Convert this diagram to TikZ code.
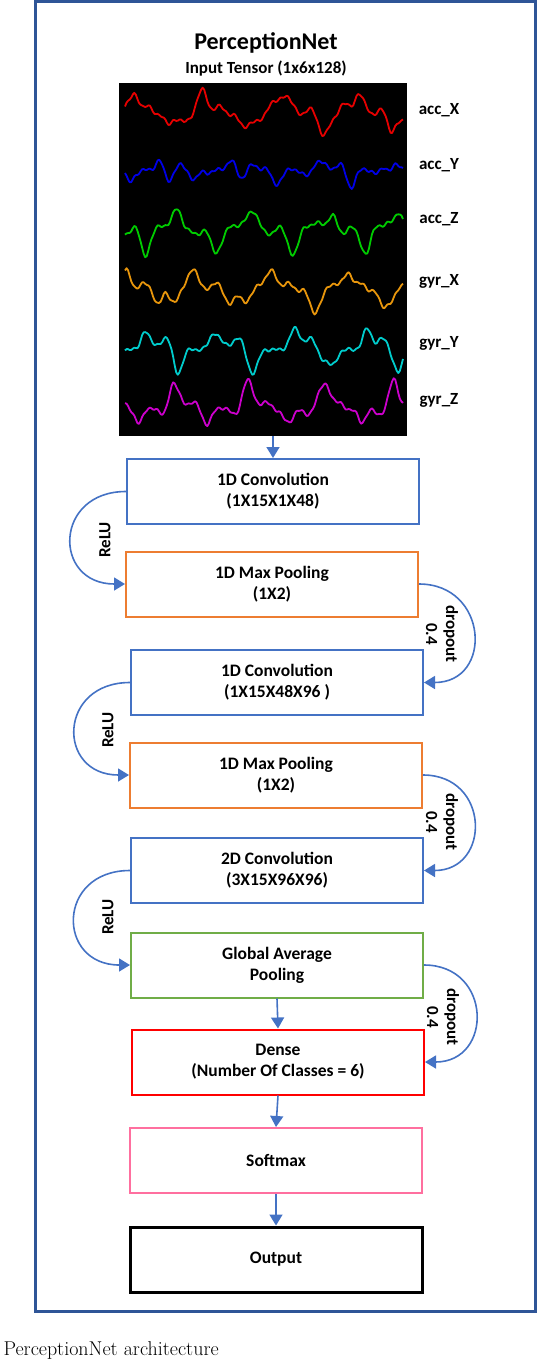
\documentclass[tikz,border=0pt]{standalone}
\usepackage{fontspec}
\newfontfamily\carlito{Carlito}
\usetikzlibrary{positioning}
\usetikzlibrary{arrows.meta}

\definecolor{frameblue}{HTML}{2F5597}
\definecolor{convblue}{HTML}{4472C4}
\definecolor{poolorange}{HTML}{ED7D31}
\definecolor{gapgreen}{HTML}{70AD47}
\definecolor{densered}{HTML}{FF0000}
\definecolor{softpink}{HTML}{FF6F9F}
\definecolor{sigred}{HTML}{E60000}
\definecolor{sigblue}{HTML}{0000E6}
\definecolor{siggreen}{HTML}{00CC00}
\definecolor{sigorange}{HTML}{E8960C}
\definecolor{sigcyan}{HTML}{00CCCC}
\definecolor{sigmagenta}{HTML}{CC00CC}

\tikzset{
  blk/.style={draw, line width=2pt, minimum width=292pt, minimum height=65pt, inner sep=0pt, align=center, font=\carlito\bfseries\fontsize{17.5}{21}\selectfont},
  flow/.style={draw=convblue, line width=1.6pt, -{Triangle[length=11pt,width=13pt]}},
  lbl/.style={font=\carlito\bfseries\fontsize{17}{20}\selectfont, align=center},
  declare function={spk(\t)=sin(\t)*abs(sin(\t))^6;
    wave(\t,\pa,\pb,\pc,\pd)=0.3*sin(5*\t+\pa)+0.22*sin(10*\t+\pb)+0.18*sin(15*\t+\pc)+0.15*sin(20*\t+\pa)+0.9*spk(5*\t+\pd+30*sin(1.3*\t))+0.07*sin(47*\t);}
}

\begin{document}
\begin{tikzpicture}[x=1pt, y=1pt]
\useasboundingbox (0,0) rectangle (538,-1360);

% outer frame
\draw[frameblue, line width=3pt] (35,-1.5) rectangle (535.5,-1311);

\node[font=\carlito\bfseries\fontsize{24}{28}\selectfont] (title) at (266,-43) {PerceptionNet};
\node[font=\carlito\bfseries\fontsize{17}{20}\selectfont] (intitle) at (266,-69) {Input Tensor (1x6x128)};

% input signals
\node[fill=black, minimum width=288pt, minimum height=353pt, inner sep=0pt] (sig) at (263,-259.5) {};
\foreach \col/\yc/\pa/\pb/\pc/\pd in {sigred/112/0/40/100/30, sigblue/171/90/200/30/250, siggreen/230/200/10/300/160, sigorange/289/40/150/220/80, sigcyan/348/300/80/170/340, sigmagenta/406/150/260/60/190}
  \draw[\col, line width=1.8pt, line join=round] plot[domain=0:278, samples=180] ({125+\x}, {-\yc+17*wave(\x,\pa,\pb,\pc,\pd)});

\foreach \nm/\yy [count=\i] in {acc\_X/110, acc\_Y/165, acc\_Z/219, gyr\_X/281, gyr\_Y/343, gyr\_Z/400}
  \node[lbl] (chan\i) at (439,-\yy) {\nm};

% layers
\node[blk, draw=convblue] (conva) at (273,-491.5) {1D Convolution\\(1X15X1X48)};
\node[blk, draw=poolorange] (poola) at (272,-584) {1D Max Pooling\\(1X2)};
\node[blk, draw=convblue] (convb) at (277,-682.5) {1D Convolution\\(1X15X48X96 )};
\node[blk, draw=poolorange] (poolb) at (276,-775) {1D Max Pooling\\(1X2)};
\node[blk, draw=convblue] (convc) at (277,-870.5) {2D Convolution\\(3X15X96X96)};
\node[blk, draw=gapgreen] (gap) at (277,-965) {Global Average\\Pooling};
\node[blk, draw=densered] (dense) at (278,-1062) {Dense\\(Number Of Classes = 6)};
\node[blk, draw=softpink] (soft) at (276,-1160.5) {Softmax};
\node[blk, draw=black, line width=3pt] (out) at (276,-1259.5) {Output};

% straight arrows
\draw[flow] (conva.north |- sig.south) -- (conva.north);
\draw[flow] (gap.south) -- (dense.north);
\draw[flow] (dense.south) -- (soft.north);
\draw[flow] (soft.south) -- (out.north);

% activations
\draw[flow] (conva.west) to[out=180, in=180, looseness=2] (poola.west);
\draw[flow] (convb.west) to[out=180, in=180, looseness=2] (poolb.west);
\draw[flow] (convc.west) to[out=180, in=180, looseness=2] (gap.west);
\node[lbl, rotate=90] (relua) at (105,-540) {ReLU};
\node[lbl, rotate=90] (relub) at (108,-730) {ReLU};
\node[lbl, rotate=90] (reluc) at (108,-917) {ReLU};

% dropouts
\draw[flow] (poola.east) to[out=0, in=0, looseness=1.8] (convb.east);
\draw[flow] (poolb.east) to[out=0, in=0, looseness=1.8] (convc.east);
\draw[flow] (gap.east) to[out=0, in=0, looseness=1.8] (dense.east);
\node[lbl, rotate=-90] (dropa) at (442,-634) {dropout\\0.4};
\node[lbl, rotate=-90] (dropb) at (442,-822) {dropout\\0.4};
\node[lbl, rotate=-90] (dropc) at (443,-1017) {dropout\\0.4};

\node[font=\fontsize{20}{22}\selectfont, anchor=base west] (caption) at (0,-1355) {PerceptionNet architecture};
\end{tikzpicture}
\end{document}
